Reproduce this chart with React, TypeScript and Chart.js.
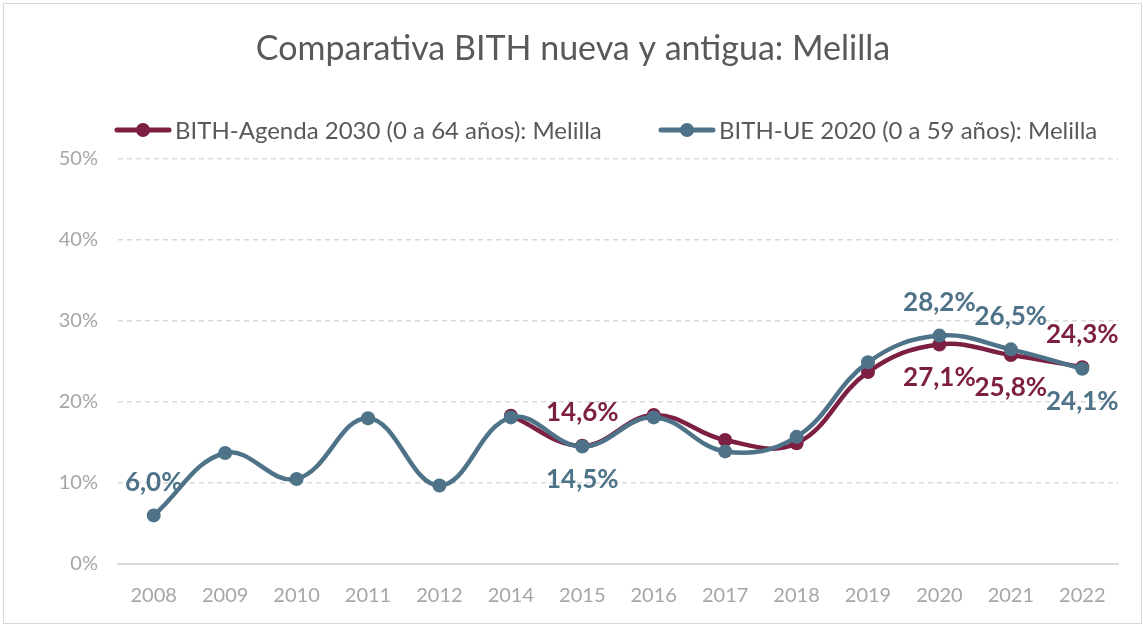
import React, { useEffect, useRef } from "react";
import { Chart, registerables } from "chart.js";
Chart.register(...registerables);

const years = ["2008", "2009", "2010", "2011", "2012", "2014", "2015", "2016", "2017", "2018", "2019", "2020", "2021", "2022"];
const agenda2030: (number | null)[] = [null, null, null, null, null, 18.3, 14.6, 18.4, 15.3, 14.9, 23.7, 27.1, 25.8, 24.3];
const ue2020: number[] = [6.0, 13.7, 10.5, 18.0, 9.7, 18.1, 14.5, 18.1, 13.9, 15.7, 24.9, 28.2, 26.5, 24.1];
const yMax = 50;
const yStep = 10;
// label index and side (-1 above, 1 below)
const agendaLabels: [number, number][] = [[6, -1], [11, 1], [12, 1], [13, -1]];
const ueLabels: [number, number][] = [[0, -1], [6, 1], [11, -1], [12, -1], [13, 1]];

const title = "Comparativa BITH nueva y antigua: Melilla";
const seriesNames = ["BITH-Agenda 2030 (0 a 64 años): Melilla", "BITH-UE 2020 (0 a 59 años): Melilla"];
const RED = "#7C1F43";
const BLUE = "#4E7389";
const FONT = "Lato, 'Open Sans', sans-serif";

const fmt = (v: number) => v.toFixed(1).replace(".", ",") + "%";

const overlay = {
  id: "overlay",
  afterDraw(chart: any) {
    const ctx = chart.ctx;
    ctx.save();
    // title
    ctx.fillStyle = "#595959";
    ctx.font = `34px ${FONT}`;
    ctx.textAlign = "center";
    ctx.textBaseline = "middle";
    ctx.fillText(title, 569, 45);
    // legend
    const items = [
      { x: 113, color: RED, text: seriesNames[0] },
      { x: 657, color: BLUE, text: seriesNames[1] },
    ];
    ctx.font = `24px ${FONT}`;
    ctx.textAlign = "left";
    items.forEach((it) => {
      ctx.strokeStyle = it.color;
      ctx.lineWidth = 5;
      ctx.lineCap = "round";
      ctx.beginPath();
      ctx.moveTo(it.x, 126);
      ctx.lineTo(it.x + 52, 126);
      ctx.stroke();
      ctx.fillStyle = it.color;
      ctx.beginPath();
      ctx.arc(it.x + 26, 126, 7, 0, Math.PI * 2);
      ctx.fill();
      ctx.fillStyle = "#595959";
      ctx.fillText(it.text, it.x + 58, 127);
    });
    // data labels
    ctx.font = `bold 26px ${FONT}`;
    ctx.textAlign = "center";
    const x = chart.scales.x;
    const y = chart.scales.y;
    const draw = (data: (number | null)[], labels: [number, number][], color: string) => {
      ctx.fillStyle = color;
      labels.forEach(([i, side]) => {
        const v = data[i] as number;
        const px = x.getPixelForValue(i);
        const py = y.getPixelForValue(v) + side * 33;
        ctx.fillText(fmt(v), px, py);
      });
    };
    draw(agenda2030, agendaLabels, RED);
    draw(ue2020, ueLabels, BLUE);
    ctx.restore();
  },
};

export default function App() {
  const ref = useRef<HTMLCanvasElement>(null);
  useEffect(() => {
    const chart = new Chart(ref.current!, {
      type: "line",
      data: {
        labels: years,
        datasets: [
          {
            label: seriesNames[0],
            data: agenda2030,
            borderColor: RED,
            backgroundColor: RED,
            borderWidth: 4.5,
            pointRadius: 7,
            pointBorderWidth: 0,
            tension: 0.4,
            order: 2,
          },
          {
            label: seriesNames[1],
            data: ue2020,
            borderColor: BLUE,
            backgroundColor: BLUE,
            borderWidth: 4.5,
            pointRadius: 7,
            pointBorderWidth: 0,
            tension: 0.4,
            order: 1,
          },
        ],
      },
      options: {
        animation: false,
        responsive: true,
        maintainAspectRatio: false,
        layout: { padding: { top: 155, right: 23, left: 0, bottom: 0 } },
        plugins: { legend: { display: false }, title: { display: false }, tooltip: { enabled: false } },
        scales: {
          x: {
            offset: true,
            grid: { display: false, drawTicks: false },
            border: { display: true, color: "#d9d9d9", width: 2 },
            ticks: { color: "#a6a6a6", font: { size: 20, family: FONT }, padding: 20 },
            afterFit: (s: any) => { s.height = 59; },
          },
          y: {
            min: 0,
            max: yMax,
            ticks: {
              stepSize: yStep,
              color: "#a6a6a6",
              font: { size: 20, family: FONT },
              padding: 20,
              callback: (v: any) => `${v}%`,
            },
            grid: { color: "#d9d9d9", lineWidth: 1.5, drawTicks: false },
            border: { display: false, dash: [5, 4] },
            afterFit: (s: any) => { s.width = 114; },
          },
        },
      },
      plugins: [overlay],
    });
    return () => chart.destroy();
  }, []);
  return (
    <div style={{ position: "absolute", left: 3, top: 3, width: 1137, height: 619, border: "1px solid #d9d9d9", background: "#fff" }}>
      <canvas ref={ref} />
    </div>
  );
}
